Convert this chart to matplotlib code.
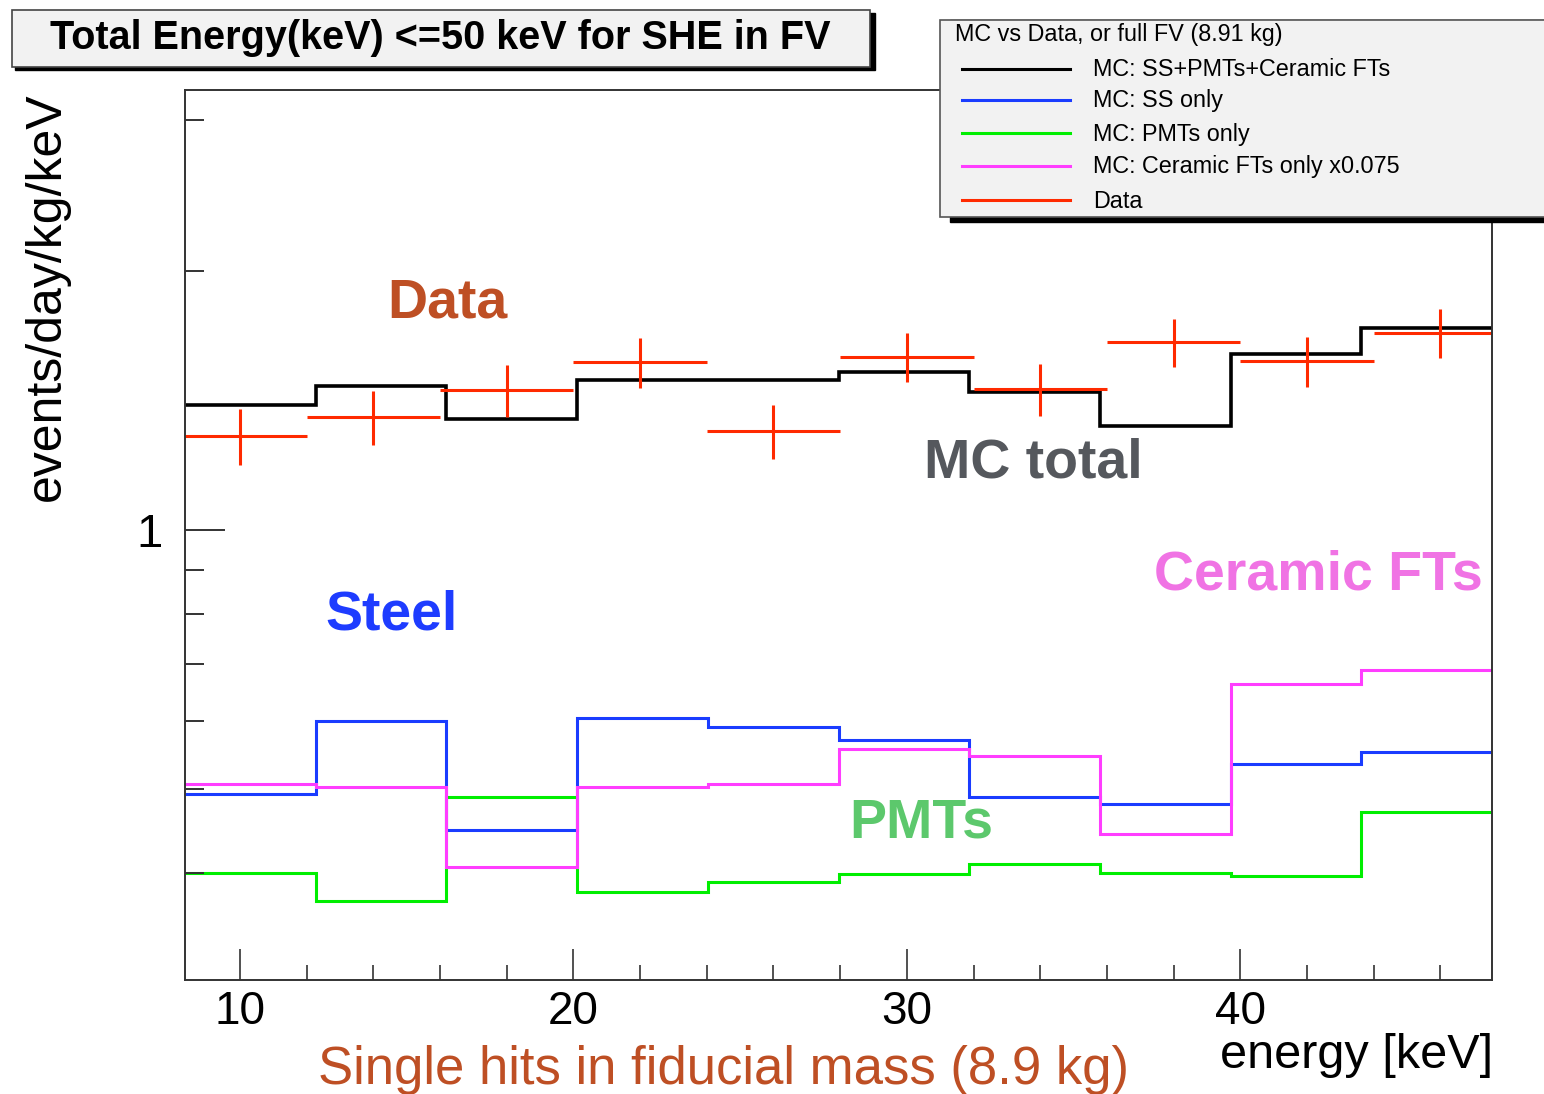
import matplotlib
matplotlib.use("Agg")
import matplotlib.pyplot as plt
from matplotlib.patches import Rectangle
from matplotlib.lines import Line2D
from matplotlib.ticker import FixedLocator, FixedFormatter, NullFormatter

plt.rcParams["font.family"] = ["Liberation Sans", "DejaVu Sans"]

# MC histogram binning (keV) and per-bin rates (events/day/kg/keV)
mc_edges = [8.35, 12.27, 16.19, 20.11, 24.03, 27.95, 31.87, 35.79, 39.71, 43.63, 47.55]
mc_total = [1.400, 1.473, 1.348, 1.494, 1.494, 1.528, 1.448, 1.321, 1.601, 1.717]
mc_ss = [0.494, 0.600, 0.448, 0.605, 0.590, 0.571, 0.490, 0.480, 0.535, 0.552]
mc_pmt = [0.400, 0.371, 0.490, 0.380, 0.390, 0.398, 0.409, 0.400, 0.396, 0.470]
mc_ceramic = [0.507, 0.503, 0.406, 0.503, 0.507, 0.557, 0.547, 0.443, 0.663, 0.688]

# measured spectrum, 4 keV bins
data_x = [10, 14, 18, 22, 26, 30, 34, 38, 42, 46]
data_y = [1.288, 1.353, 1.456, 1.567, 1.304, 1.591, 1.459, 1.655, 1.573, 1.698]
data_err = [0.097, 0.098, 0.100, 0.105, 0.095, 0.103, 0.100, 0.107, 0.105, 0.110]
data_halfwidth = 2.0

legend_labels = ["MC: SS+PMTs+Ceramic FTs", "MC: SS only", "MC: PMTs only",
                 "MC: Ceramic FTs only x0.075", "Data"]
legend_colors = ["black", "#1a3cff", "#00ee00", "#ff3dff", "#ff2a00"]

W, H = 1544, 1094
fig = plt.figure(figsize=(W / 100, H / 100), dpi=100)


def fx(px):
    return px / W


def fy(py):
    return 1 - py / H


ax = fig.add_axes([fx(185), fy(980), fx(1492) - fx(185), fy(90) - fy(980)])
ax.set_yscale("log")
ax.set_xlim(mc_edges[0], mc_edges[-1])
ax.set_ylim(0.3, 3.25)

ax.stairs(mc_total, mc_edges, baseline=None, color=legend_colors[0], lw=2.6)
ax.stairs(mc_ss, mc_edges, baseline=None, color=legend_colors[1], lw=2.2)
ax.stairs(mc_pmt, mc_edges, baseline=None, color=legend_colors[2], lw=2.2)
ax.stairs(mc_ceramic, mc_edges, baseline=None, color=legend_colors[3], lw=2.2)
ax.errorbar(data_x, data_y, xerr=data_halfwidth, yerr=data_err, fmt="none",
            ecolor=legend_colors[4], elinewidth=2.2, capsize=0)

# ROOT-like axis styling
for side in ax.spines.values():
    side.set_color("#333333")
    side.set_linewidth(1.4)
ax.yaxis.set_major_locator(FixedLocator([1]))
ax.yaxis.set_minor_locator(FixedLocator([0.4, 0.5, 0.6, 0.7, 0.8, 0.9, 2, 3]))
ax.yaxis.set_major_formatter(FixedFormatter(["1"]))
ax.yaxis.set_minor_formatter(NullFormatter())
ax.xaxis.set_major_locator(FixedLocator([10, 20, 30, 40]))
ax.xaxis.set_minor_locator(FixedLocator([12, 14, 16, 18, 22, 24, 26, 28,
                                         32, 34, 36, 38, 42, 44, 46]))
ax.tick_params(axis="y", which="major", direction="in", length=29, width=1.4,
               color="#333333", labelsize=34, pad=16, right=False)
ax.tick_params(axis="y", which="minor", direction="in", length=14, width=1.4,
               color="#333333", right=False)
ax.tick_params(axis="x", which="major", direction="in", length=22, width=1.2,
               color="#333333", labelsize=33, pad=7, top=False)
ax.tick_params(axis="x", which="minor", direction="in", length=11, width=1.2,
               color="#333333", top=False)

fig.text(fx(47), fy(297), "events/day/kg/keV", rotation=90, fontsize=36,
         ha="center", va="center")
fig.text(fx(1493), fy(1055), "energy [keV]", fontsize=35, ha="right", va="center")

# title box
fig.patches.append(Rectangle((fx(15), fy(70)), fx(860), fy(10) - fy(67),
                             transform=fig.transFigure, color="black", zorder=1))
fig.patches.append(Rectangle((fx(12), fy(67)), fx(858), fy(10) - fy(67),
                             transform=fig.transFigure, facecolor="#f2f2f2",
                             edgecolor="#444444", lw=1.2, zorder=2))
fig.text(fx(440), fy(38), "Total Energy(keV) <=50 keV for SHE in FV",
         fontsize=28.5, fontweight="bold", ha="center", va="center", zorder=3)

# legend panel at the top right
fig.patches.append(Rectangle((fx(950), fy(222)), fx(620), fy(20) - fy(222),
                             transform=fig.transFigure, color="black", zorder=4))
fig.patches.append(Rectangle((fx(940), fy(217)), fx(620), fy(20) - fy(217),
                             transform=fig.transFigure, facecolor="#f2f2f2",
                             edgecolor="#555555", lw=1.2, zorder=5))
fig.text(fx(955), fy(35), "MC vs Data, or full FV (8.91 kg)", fontsize=16.8,
         ha="left", va="center", zorder=6)
legend_rows = [69, 100, 133, 166, 200]
for row, lab, col in zip(legend_rows, legend_labels, legend_colors):
    fig.lines.append(Line2D([fx(962), fx(1070)], [fy(row), fy(row)],
                            transform=fig.transFigure, color=col, lw=2.2, zorder=6))
    fig.text(fx(1093), fy(row + 1), lab, fontsize=16.8, ha="left", va="center",
             zorder=6)

# slide annotations
fig.text(fx(447), fy(303), "Data", fontsize=40, fontweight="bold",
         color="#be4f24", ha="center", va="center")
fig.text(fx(1033), fy(463), "MC total", fontsize=40, fontweight="bold",
         color="#55585d", ha="center", va="center")
fig.text(fx(1318), fy(575), "Ceramic FTs", fontsize=40, fontweight="bold",
         color="#f073e4", ha="center", va="center")
fig.text(fx(392), fy(615), "Steel", fontsize=40, fontweight="bold",
         color="#1e3cff", ha="center", va="center")
fig.text(fx(921), fy(823), "PMTs", fontsize=40, fontweight="bold",
         color="#5cc86c", ha="center", va="center")
fig.text(fx(723), fy(1070), "Single hits in fiducial mass (8.9 kg)", fontsize=38,
         color="#be4f24", ha="center", va="center")

fig.savefig("out.png", dpi=100)
